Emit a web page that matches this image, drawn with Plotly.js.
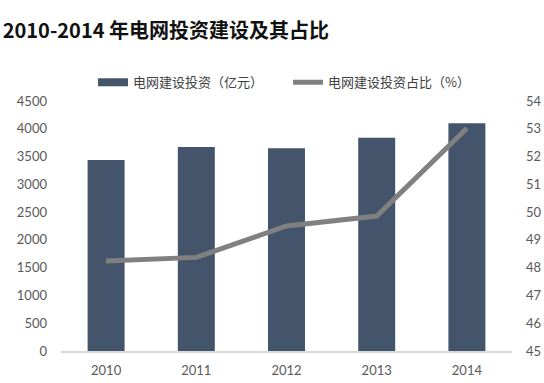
<!DOCTYPE html>
<html><head><meta charset="utf-8">
<script src="https://cdn.plot.ly/plotly-3.0.1.min.js"></script>
<style>html,body{margin:0;padding:0;background:#fff}#c{width:544px;height:383px}</style>
</head><body><div id="c"></div>
<script>
const years = ['2010','2011','2012','2013','2014'];
const investment = [3438, 3672, 3648, 3840, 4098];
const share = [48.24, 48.37, 49.5, 49.86, 53.02];
const leftTicks = [0,500,1000,1500,2000,2500,3000,3500,4000,4500];
const rightTicks = [45,46,47,48,49,50,51,52,53,54];
const barName = '电网建设投资（亿元）';
const lineName = '电网建设投资占比（%）';

const font = "Lato, 'Noto Sans CJK SC', sans-serif";
const data = [
  {type:'bar', x:years, y:investment, name:barName, showlegend:false,
   marker:{color:'#44546A'}, yaxis:'y'},
  {type:'scatter', mode:'lines', x:[null], y:[null], name:barName, showlegend:true,
   line:{color:'#44546A', width:8}, yaxis:'y'},
  {type:'scatter', mode:'lines', x:years, y:share, name:lineName,
   line:{color:'#808080', width:5}, yaxis:'y2'}
];
const layout = {
  width:544, height:383,
  margin:{l:61, r:32, t:101, b:32},
  paper_bgcolor:'#fff', plot_bgcolor:'#fff',
  font:{family:font, color:'#595959', size:13},
  title:{text:'<b>2010-2014 年电网投资建设及其占比</b>', x:0.005, xanchor:'left', y:0.92, yanchor:'middle',
         font:{family:"'Noto Sans CJK SC', sans-serif", size:20, color:'#111'}},
  bargap:0.59,
  showlegend:true,
  legend:{orientation:'h', x:0.071, xanchor:'left', y:1.075, yanchor:'middle',
          font:{family:"'Noto Sans CJK SC', sans-serif", size:13, color:'#404040'},
          itemwidth:30, entrywidth:150, entrywidthmode:'pixels', traceorder:'normal'},
  xaxis:{type:'category', showgrid:false, showline:true, linecolor:'#d9d9d9', linewidth:2,
         ticks:'', ticklabelstandoff:6, tickfont:{size:13, color:'#595959'}, zeroline:false},
  yaxis:{range:[0,4500], tickvals:leftTicks, showgrid:false, zeroline:false, showline:false,
         ticks:'', ticklabelstandoff:13, tickfont:{size:13, color:'#595959'}},
  yaxis2:{range:[45,54], tickvals:rightTicks, overlaying:'y', side:'right', showgrid:false,
          zeroline:false, showline:false, ticks:'', ticklabelstandoff:13, tickfont:{size:13, color:'#595959'}}
};
Plotly.newPlot('c', data, layout, {staticPlot:true, displayModeBar:false});
</script></body></html>
